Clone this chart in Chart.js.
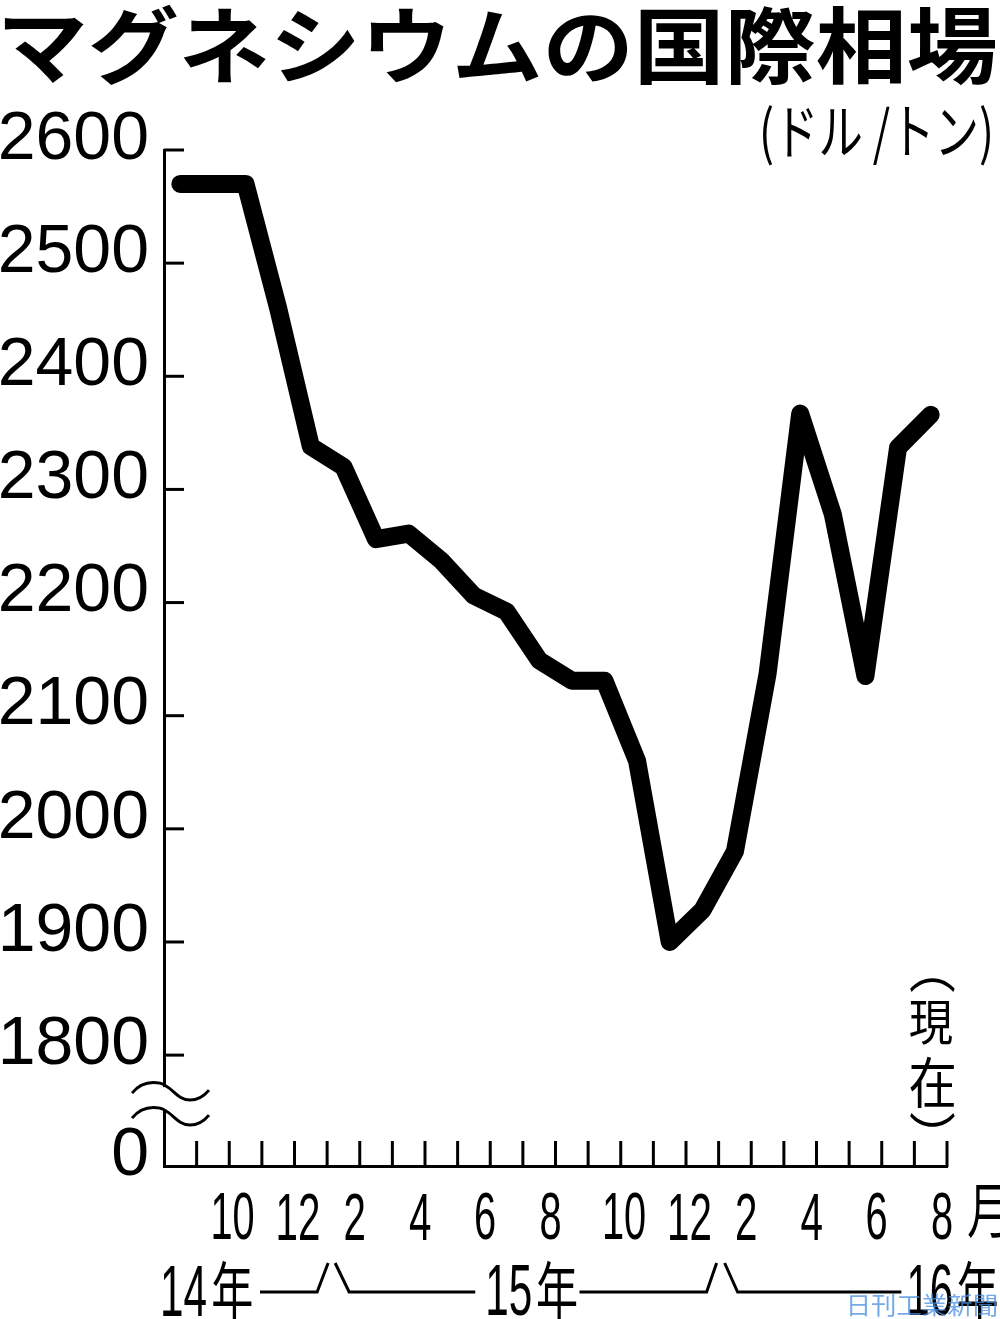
<!DOCTYPE html>
<html lang="ja">
<head>
<meta charset="utf-8">
<title>マグネシウムの国際相場</title>
<script src="https://cdn.jsdelivr.net/npm/chart.js@4"></script>
<style>
  html, body { margin: 0; padding: 0; background: #fff; }
  #wrap { position: relative; width: 1000px; height: 1319px; }
</style>
</head>
<body>
<div id="wrap"><canvas id="chart"></canvas></div>
<script>
  // 月次データ（2014年8月〜2016年7月、ドル/トン）
  const months = ['14/8', '14/9', '14/10', '14/11', '14/12',
    '15/1', '15/2', '15/3', '15/4', '15/5', '15/6', '15/7', '15/8', '15/9', '15/10', '15/11', '15/12',
    '16/1', '16/2', '16/3', '16/4', '16/5', '16/6', '16/7'];
  const prices = [2570, 2570, 2570, 2460, 2338,
    2320, 2256, 2261, 2237, 2206, 2192, 2149, 2131, 2131, 2060, 1900, 1928,
    1980, 2137, 2367, 2278, 2135, 2337, 2366];

  const yTicks = [1800, 1900, 2000, 2100, 2200, 2300, 2400, 2500, 2600];
  const yFloor = 1702;   // 省略線の下端（「0」表示）
  const monthTickLabels = ['10', '12', '2', '4', '6', '8', '10', '12', '2', '4', '6', '8'];
  const yearLabels = ['14年', '15年', '16年'];
  const titleText = 'マグネシウムの国際相場';
  const unitText = '(ドル /トン)';
  const nowText = ['︵', '現', '在', '︶'];
  const creditText = '日刊工業新聞';

  const JP = '"Noto Sans CJK JP", "Noto Sans CJK SC", sans-serif';
  const NUM = '"Liberation Sans", Arial, sans-serif';

  // インク範囲を指定の箱に合わせて描く
  function fitText(ctx, text, font, x0, y0, x1, y1) {
    ctx.save();
    ctx.font = font;
    ctx.textAlign = 'left';
    ctx.textBaseline = 'alphabetic';
    const m = ctx.measureText(text);
    const iw = m.actualBoundingBoxLeft + m.actualBoundingBoxRight;
    const ih = m.actualBoundingBoxAscent + m.actualBoundingBoxDescent;
    ctx.translate(x0, y0);
    ctx.scale((x1 - x0) / iw, (y1 - y0) / ih);
    ctx.fillText(text, m.actualBoundingBoxLeft, m.actualBoundingBoxAscent);
    ctx.restore();
  }

  // 高さ h、横方向に squeeze 倍した文字（下端 bottom）
  function inkText(ctx, text, font, x, bottom, h, squeeze, align) {
    ctx.save();
    ctx.font = font;
    ctx.textAlign = 'left';
    ctx.textBaseline = 'alphabetic';
    const m = ctx.measureText(text);
    const ih = m.actualBoundingBoxAscent + m.actualBoundingBoxDescent;
    const sy = h / ih, sx = sy * squeeze;
    const w = (m.actualBoundingBoxLeft + m.actualBoundingBoxRight) * sx;
    const left = align === 'center' ? x - w / 2 : align === 'right' ? x - w : x;
    ctx.translate(left, bottom);
    ctx.scale(sx, sy);
    ctx.fillText(text, m.actualBoundingBoxLeft, -m.actualBoundingBoxDescent);
    ctx.restore();
    return w;
  }

  function seg(ctx, pts) {
    ctx.beginPath();
    ctx.moveTo(pts[0][0], pts[0][1]);
    for (let i = 1; i < pts.length; i++) ctx.lineTo(pts[i][0], pts[i][1]);
    ctx.stroke();
  }

  const whiteBg = {
    id: 'whiteBg',
    beforeDraw(chart) {
      const ctx = chart.ctx;
      ctx.save();
      ctx.fillStyle = '#fff';
      ctx.fillRect(0, 0, chart.width, chart.height);
      ctx.restore();
    }
  };

  const decor = {
    id: 'decor',
    afterDraw(chart) {
      const ctx = chart.ctx;
      const xs = chart.scales.x, ys = chart.scales.y;
      const area = chart.chartArea;
      const edge = k => xs.getPixelForValue(k - 0.5);   // 月の境目
      ctx.save();
      ctx.strokeStyle = '#000';
      ctx.fillStyle = '#000';
      ctx.lineWidth = 3;
      ctx.lineCap = 'butt';

      // 目盛り（内向き）
      yTicks.forEach(v => {
        const py = ys.getPixelForValue(v);
        seg(ctx, [[area.left, py], [area.left + 20, py]]);
      });
      for (let k = 1; k <= months.length; k++) {
        const px = edge(k);
        seg(ctx, [[px, area.bottom + 1], [px, area.bottom - 25]]);
      }

      // 縦軸の省略記号
      const base = ys.getPixelForValue(1800);
      ctx.fillStyle = '#fff';
      ctx.fillRect(area.left - 4, base + 32, 8, 22);
      ctx.fillStyle = '#000';
      [27, 52].forEach(d => {
        const c = base + d;
        ctx.beginPath();
        ctx.moveTo(132, c + 11);
        ctx.bezierCurveTo(140, c + 1, 150, -1 + c, 160, c + 1);
        ctx.bezierCurveTo(172, c + 4, 177, c + 18, 190, c + 18);
        ctx.bezierCurveTo(198, c + 18, 204, c + 14, 209, c + 8);
        ctx.stroke();
      });

      // 月ラベル
      monthTickLabels.forEach((t, i) => {
        const px = edge((i + 1) * 2) + (t.length > 1 ? 4 : -5);
        inkText(ctx, t, '100px ' + NUM, px, 1240, 47, 0.6, 'center');
      });
      inkText(ctx, '月', '100px ' + JP, 968, 1238, 53, 0.74, 'left');

      // 年ラベルと区切り線
      const yl = 1292, top = 1263;
      const b1 = edge(5), b2 = edge(17);
      const drawYear = (txt, left) => {
        const w = inkText(ctx, txt.slice(0, 2), '100px ' + NUM, left, 1316, 51, 0.58, 'left');
        const w2 = inkText(ctx, txt.slice(2), '100px ' + JP, left + w + 7, 1321, 60, 0.66, 'left');
        return left + w + 7 + w2;
      };
      drawYear(yearLabels[0], area.left - 1);
      const r15 = drawYear(yearLabels[1], edge(10) - 2);
      const l16 = edge(23) - 5;
      drawYear(yearLabels[2], l16);
      seg(ctx, [[260, yl], [b1 - 10, yl], [b1 + 1, top]]);
      seg(ctx, [[b1 + 8, top], [b1 + 22, yl], [edge(10) - 15, yl]]);
      seg(ctx, [[r15 + 3, yl], [b2 - 12, yl], [b2 - 2, top]]);
      seg(ctx, [[b2 + 6, top], [b2 + 19, yl], [l16 - 8, yl]]);

      // タイトル・単位・注記
      fitText(ctx, titleText, '700 100px ' + JP, 5, 4, 995, 85);
      fitText(ctx, unitText, '400 100px ' + JP, 763, 105, 990, 166);
      fitText(ctx, nowText[0], '400 100px ' + JP, 910, 978, 955, 992);
      fitText(ctx, nowText[1], '400 100px ' + JP, 910, 1000, 952, 1044);
      fitText(ctx, nowText[2], '400 100px ' + JP, 910, 1057, 954, 1108);
      fitText(ctx, nowText[3], '400 100px ' + JP, 910, 1113, 955, 1127);
      ctx.fillStyle = 'rgba(70, 140, 225, 0.75)';
      fitText(ctx, creditText, '400 100px ' + JP, 850, 1294, 996, 1316);
      ctx.restore();
    }
  };

  window.onload = () => {
    const ctx = document.getElementById('chart').getContext('2d');
    new Chart(ctx, {
      type: 'line',
      data: {
        labels: months,
        datasets: [{
          data: prices,
          borderColor: '#000',
          borderWidth: 18,
          borderCapStyle: 'round',
          borderJoinStyle: 'round',
          pointRadius: 0,
          fill: false,
          tension: 0
        }]
      },
      options: {
        responsive: true,
        maintainAspectRatio: false,
        animation: false,
        layout: { padding: { top: 150, bottom: 153, right: 53, left: 0 } },
        plugins: { legend: { display: false }, tooltip: { enabled: false }, title: { display: false } },
        scales: {
          x: {
            type: 'category',
            offset: true,
            ticks: { display: false },
            grid: { display: false, drawTicks: false },
            border: { display: true, color: '#000', width: 3 },
            afterFit: s => { s.height = 0; }
          },
          y: {
            min: yFloor,
            max: 2600,
            afterBuildTicks: s => { s.ticks = [yFloor].concat(yTicks).map(v => ({ value: v })); },
            ticks: {
              color: '#000',
              padding: 15,
              labelOffset: -10,
              font: { family: NUM, size: 68 },
              callback: v => (v === yFloor ? '0' : String(v))
            },
            grid: { display: false, drawTicks: false },
            border: { display: true, color: '#000', width: 3 },
            afterFit: s => { s.width = 164; }
          }
        }
      },
      plugins: [whiteBg, decor]
    });
  };
</script>
</body>
</html>
